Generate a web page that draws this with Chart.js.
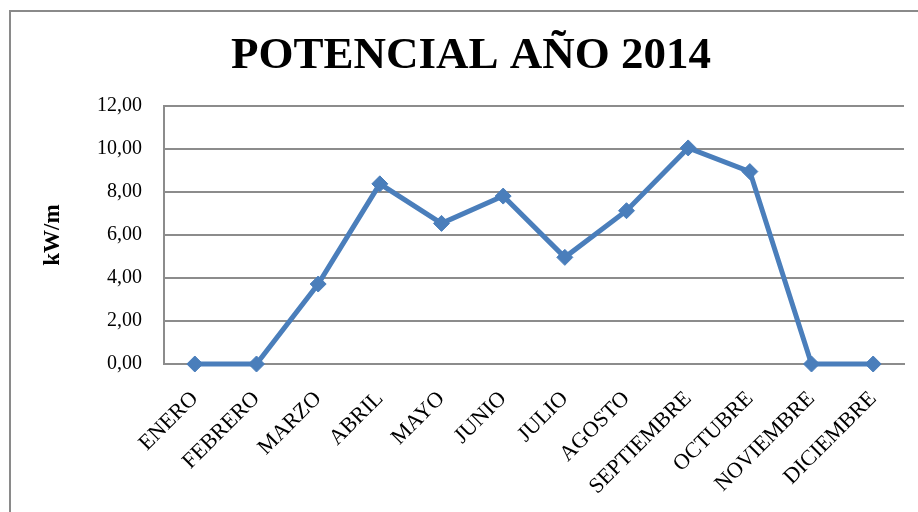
<!DOCTYPE html>
<html>
<head>
<meta charset="utf-8">
<script src="https://cdn.jsdelivr.net/npm/chart.js@4.4.1/dist/chart.umd.min.js"></script>
<style>
  html, body { margin: 0; padding: 0; background: #fff; overflow: hidden; }
  #frame { position: absolute; left: 9px; top: 10px; width: 1000px; height: 600px; border: 2px solid #8a8a8a; }
  #wrap { position: absolute; left: 0; top: 0; width: 918px; height: 512px; }
</style>
</head>
<body>
<div id="frame"></div>
<div id="wrap"><canvas id="c" width="918" height="512"></canvas></div>
<script>
const titleText = 'POTENCIAL AÑO 2014';
const yAxisTitle = 'kW/m';
const months = ['ENERO','FEBRERO','MARZO','ABRIL','MAYO','JUNIO','JULIO','AGOSTO','SEPTIEMBRE','OCTUBRE','NOVIEMBRE','DICIEMBRE'];
const potencial = [0, 0, 3.72, 8.38, 6.54, 7.81, 4.96, 7.13, 10.05, 8.95, 0, 0];
const yTicks = [0, 2, 4, 6, 8, 10, 12];

const FONT = "'Liberation Serif', 'Times New Roman', serif";
const GRID = '#8c8c8c';
const BLUE = '#4a7ebb';

new Chart(document.getElementById('c'), {
  type: 'line',
  data: {
    labels: months,
    datasets: [{
      data: potencial,
      borderColor: BLUE,
      backgroundColor: BLUE,
      borderWidth: 5,
      pointStyle: 'rectRot',
      pointRadius: 8,
      pointBorderWidth: 1,
      pointBackgroundColor: BLUE,
      pointBorderColor: BLUE,
      tension: 0,
      clip: false
    }]
  },
  options: {
    responsive: false,
    animation: false,
    devicePixelRatio: 1,
    layout: { padding: { left: 38, right: 14, top: 0, bottom: 0 } },
    plugins: {
      legend: { display: false },
      tooltip: { enabled: false },
      title: {
        display: true,
        text: titleText,
        color: '#000',
        font: { family: FONT, size: 45, weight: 'bold', lineHeight: 1.2 },
        padding: { top: 29, bottom: 23 }
      }
    },
    scales: {
      x: {
        offset: true,
        grid: { display: false, drawTicks: false, offset: true },
        border: { display: true, color: GRID, width: 2 },
        ticks: {
          color: '#000',
          font: { family: FONT, size: 22 },
          minRotation: 45,
          maxRotation: 45,
          padding: 22,
          autoSkip: false
        },
        afterFit: (s) => { s.height = 148; s.paddingLeft = 0; s.paddingRight = 0; }
      },
      y: {
        min: 0,
        max: 12,
        afterBuildTicks: (s) => { s.ticks = yTicks.map(v => ({ value: v })); },
        grid: { color: GRID, lineWidth: 2, drawTicks: false },
        border: { display: true, color: GRID, width: 2 },
        ticks: {
          color: '#000',
          font: { family: FONT, size: 20 },
          padding: 22,
          callback: (v) => Number(v).toFixed(2).replace('.', ',')
        },
        title: {
          display: true,
          text: yAxisTitle,
          color: '#000',
          font: { family: FONT, size: 23, weight: 'bold', lineHeight: 1.2 },
          padding: { top: 1, bottom: 0 }
        },
        afterFit: (s) => { s.width = 126; }
      }
    }
  }
});
</script>
</body>
</html>
